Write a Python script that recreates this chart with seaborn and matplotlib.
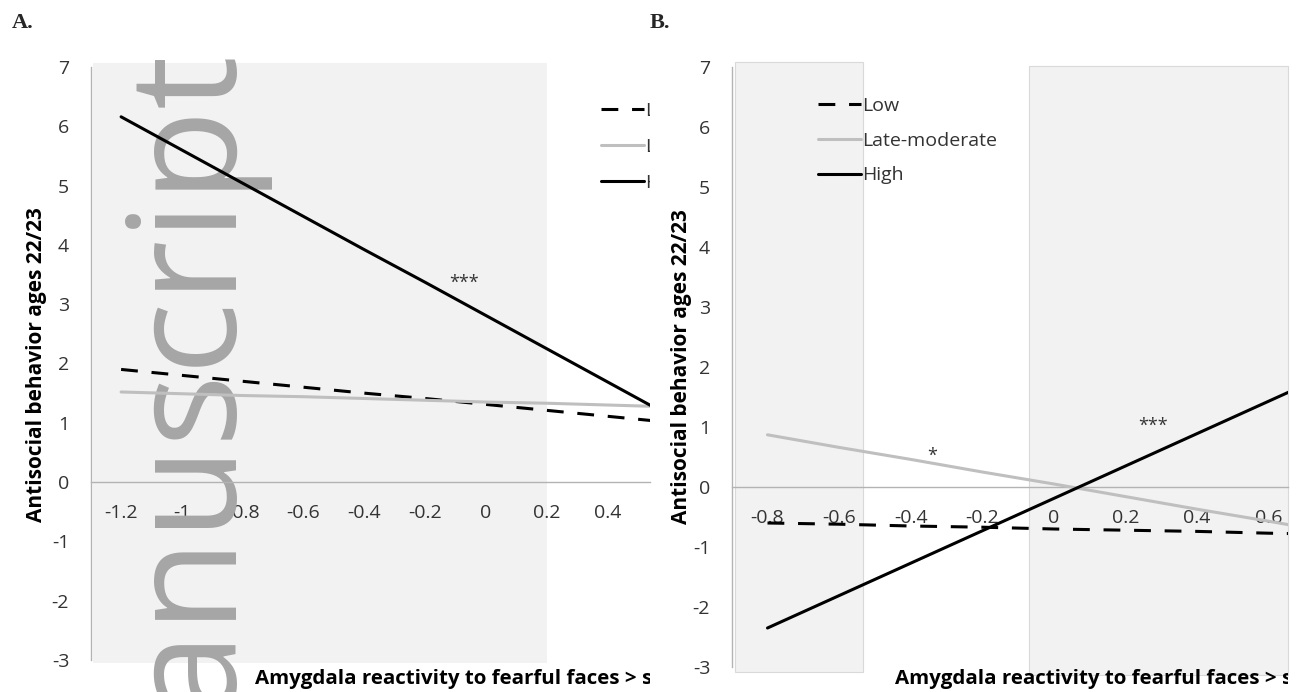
import matplotlib
matplotlib.use("Agg")
import numpy as np
import pandas as pd
import matplotlib.pyplot as plt
from matplotlib.patches import Rectangle
from matplotlib.transforms import Bbox, TransformedBbox
import seaborn as sns

# ---- data (simple slopes per trajectory group) ----
groups = ["Low", "Late-moderate", "High"]

# panel A
x_a = [-1.2, -1.0, -0.8, -0.6, -0.4, -0.2, 0.0, 0.2, 0.4, 0.6]
xlabels_a = ["-1.2", "-1", "-0.8", "-0.6", "-0.4", "-0.2", "0", "0.2", "0.4", "0.6"]
low_a = [1.90, 1.80, 1.70, 1.60, 1.50, 1.41, 1.31, 1.21, 1.11, 1.01]
latemod_a = [1.52, 1.49, 1.46, 1.44, 1.41, 1.38, 1.35, 1.33, 1.30, 1.27]
high_a = [6.16, 5.60, 5.04, 4.48, 3.92, 3.37, 2.81, 2.25, 1.69, 1.13]

# panel B
x_b = [-0.8, -0.6, -0.4, -0.2, 0.0, 0.2, 0.4, 0.6, 0.8]
xlabels_b = ["-0.8", "-0.6", "-0.4", "-0.2", "0", "0.2", "0.4", "0.6", "0.8"]
low_b = [-0.60, -0.62, -0.65, -0.67, -0.70, -0.72, -0.74, -0.77, -0.79]
latemod_b = [0.87, 0.66, 0.46, 0.25, 0.05, -0.16, -0.37, -0.57, -0.78]
high_b = [-2.35, -1.81, -1.27, -0.73, -0.19, 0.35, 0.89, 1.43, 1.97]

yticks = [-3, -2, -1, 0, 1, 2, 3, 4, 5, 6, 7]

# ---- style ----
sns.set_style("white")
plt.rcParams["font.family"] = ["Open Sans", "DejaVu Sans"]
plt.rcParams["axes.unicode_minus"] = False

palette = {"Low": "#000000", "Late-moderate": "#bfbfbf", "High": "#000000"}
dashes = {"Low": (5.5, 4.5), "Late-moderate": "", "High": ""}
AXIS_GRAY = "#b3b3b3"
BOX_GRAY = "#f2f2f2"
TXT = "#333333"

W, H = 1300, 692
fig = plt.figure(figsize=(W / 100, H / 100), dpi=100)


def px_axes(left, right, top, bottom):
    return fig.add_axes([left / W, 1 - bottom / H, (right - left) / W, (bottom - top) / H])


def clip_box(left, right):
    return TransformedBbox(Bbox([[left / W, 0], [right / W, 1]]), fig.transFigure)


def long_df(x, low, mid, high):
    rows = []
    for g, vals in zip(groups, [low, mid, high]):
        for xv, yv in zip(x, vals):
            rows.append({"x": xv, "value": yv, "group": g})
    return pd.DataFrame(rows)


def draw_panel(ax, df, x, labels, xlim):
    sns.lineplot(data=df, x="x", y="value", hue="group", style="group",
                 hue_order=groups, style_order=groups, palette=palette,
                 dashes=dashes, linewidth=2.2, errorbar=None, legend=False,
                 solid_capstyle="round", dash_capstyle="butt", zorder=3, ax=ax)
    ax.set_facecolor("none")
    ax.set_xlabel("")
    ax.set_ylabel("")
    ax.spines[["top", "right"]].set_visible(False)
    ax.spines["bottom"].set_position(("data", 0))
    for s in ["left", "bottom"]:
        ax.spines[s].set_color(AXIS_GRAY)
        ax.spines[s].set_linewidth(1.0)
    # Excel-style category axis: ticks between categories, labels at centres
    bounds = [(x[i] + x[i + 1]) / 2 for i in range(len(x) - 1)]
    ax.set_xticks(bounds)
    ax.set_xticks(x, labels, minor=True)
    ax.set_yticks(yticks)
    # limits last, set_xticks would widen them
    ax.set_xlim(xlim)
    ax.set_ylim(-3, 7)
    ax.tick_params(axis="x", which="major", length=5, width=1, color=AXIS_GRAY,
                   direction="out", labelbottom=False)
    ax.tick_params(axis="x", which="minor", length=0, pad=16, labelsize=14,
                   labelcolor=TXT)
    ax.tick_params(axis="y", length=4.5, width=1, color=AXIS_GRAY, direction="out",
                   pad=11, labelsize=14, labelcolor=TXT)


def add_legend(ax, x_px, top_px, spacing, clip):
    leg = ax.legend(ax.lines[:3], groups, frameon=False, loc="upper left",
                    bbox_to_anchor=(x_px / W, 1 - top_px / H),
                    bbox_transform=fig.transFigure, handlelength=2.21,
                    handletextpad=0.05, labelspacing=spacing, borderpad=0,
                    borderaxespad=0, fontsize=14)
    for t in leg.get_texts():
        t.set_color(TXT)
        if clip is not None:
            t.set_clip_box(clip)
            t.set_clip_on(True)
    return leg


def axis_titles(ax, xlab_px, ylab_px, clip):
    ax.set_xlabel("Amygdala reactivity to fearful faces > shapes", fontsize=14.75,
                  fontweight="bold", color="#000000", ha="left", va="center")
    ax.xaxis.set_label_coords(xlab_px[0] / W, 1 - xlab_px[1] / H, transform=fig.transFigure)
    ax.xaxis.label.set_clip_box(clip)
    ax.xaxis.label.set_clip_on(True)
    ax.set_ylabel("Antisocial behavior ages 22/23", fontsize=15, fontweight="bold",
                  color="#000000")
    ax.yaxis.set_label_coords(ylab_px[0] / W, 1 - ylab_px[1] / H, transform=fig.transFigure)


# ---- panel A ----
ax_a = px_axes(90.7, 650, 67, 660)
ax_a.add_patch(Rectangle((-1.292, -3.05), 1.493, 10.12, facecolor=BOX_GRAY,
                         edgecolor="none", zorder=0.5, clip_on=False))
draw_panel(ax_a, long_df(x_a, low_a, latemod_a, high_a), x_a, xlabels_a, (-1.3, 0.54))
# scanned-manuscript watermark, sits under the lines
ax_a.text(224 / W, 1 - 42 / H, "manuscript", transform=fig.transFigure, rotation=90,
          rotation_mode="anchor", ha="right", va="baseline", fontsize=109,
          color="#a6a6a6", zorder=1, clip_on=False)
ax_a.text(-0.072, 3.27, "***", ha="center", va="baseline", fontsize=13, color=TXT)
add_legend(ax_a, 601, 102, 0.93, clip_box(0, 650))
axis_titles(ax_a, (255, 679), (47, 365), clip_box(0, 650))

# ---- panel B ----
ax_b = px_axes(731.7, 1288, 67, 667)
ax_b.add_patch(Rectangle((-0.891, -3.083), 0.359, 10.166, facecolor=BOX_GRAY,
                         edgecolor="#d9d9d9", lw=0.8, zorder=0.5, clip_on=False))
ax_b.add_patch(Rectangle((-0.070, -3.13), 0.724, 10.15, facecolor=BOX_GRAY,
                         edgecolor="#d9d9d9", lw=0.8, zorder=0.5, clip_on=False))
draw_panel(ax_b, long_df(x_b, low_b, latemod_b, high_b), x_b, xlabels_b, (-0.9, 0.654))
ax_b.text(-0.34, 0.43, "*", ha="center", va="baseline", fontsize=13, color=TXT)
ax_b.text(0.277, 0.94, "***", ha="center", va="baseline", fontsize=13, color=TXT)
add_legend(ax_b, 818, 97, 0.86, None)
axis_titles(ax_b, (894.6, 679), (692, 367), clip_box(650, 1288))

fig.text(12 / W, 1 - 28 / H, "A.", family="Liberation Serif", fontweight="bold",
         fontsize=16, va="baseline", ha="left")
fig.text(650 / W, 1 - 28 / H, "B.", family="Liberation Serif", fontweight="bold",
         fontsize=16, va="baseline", ha="left")

fig.savefig("out.png", dpi=100)
